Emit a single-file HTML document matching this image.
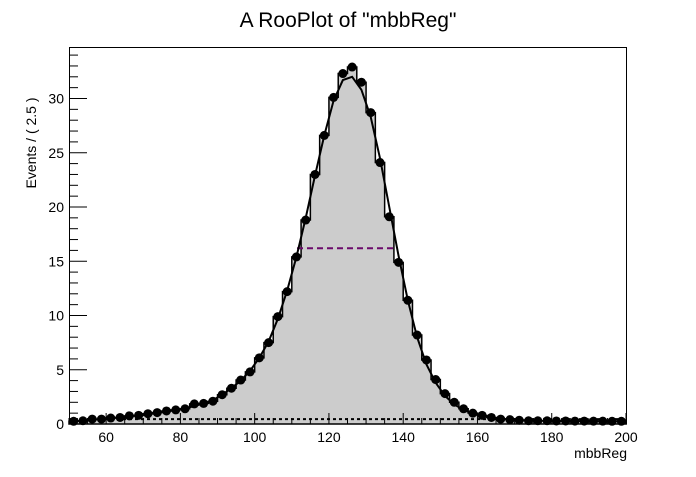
<!DOCTYPE html>
<html><head><meta charset="utf-8"><style>
body{margin:0;background:#fff;width:696px;height:472px;overflow:hidden}
svg text{font-family:"Liberation Sans",Arial,sans-serif;fill:#000}
</style></head><body>
<svg id="chart" width="696" height="472" xmlns="http://www.w3.org/2000/svg">
<text x="348" y="27" font-size="21" text-anchor="middle">A RooPlot of "mbbReg"</text>
<text transform="translate(36,143) rotate(-90)" font-size="14" text-anchor="middle">Events / ( 2.5 )</text>
<text x="627" y="458" font-size="14" text-anchor="end">mbbReg</text>
<g id="plot"></g>
</svg>
<script>
const binCenters = [51.25,53.75,56.25,58.75,61.25,63.75,66.25,68.75,71.25,73.75,76.25,78.75,81.25,83.75,86.25,88.75,91.25,93.75,96.25,98.75,101.25,103.75,106.25,108.75,111.25,113.75,116.25,118.75,121.25,123.75,126.25,128.75,131.25,133.75,136.25,138.75,141.25,143.75,146.25,148.75,151.25,153.75,156.25,158.75,161.25,163.75,166.25,168.75,171.25,173.75,176.25,178.75,181.25,183.75,186.25,188.75,191.25,193.75,196.25,198.75];
const counts = [0.25,0.3,0.45,0.45,0.55,0.6,0.75,0.8,0.95,1.05,1.2,1.3,1.4,1.85,1.9,2.1,2.7,3.3,4.05,4.8,6.1,7.5,9.9,12.2,15.4,18.8,23.0,26.6,30.1,32.3,32.9,31.5,28.7,24.1,19.1,14.9,11.4,8.2,5.9,4.1,2.8,2.0,1.4,1.0,0.8,0.6,0.45,0.4,0.35,0.3,0.3,0.3,0.28,0.28,0.27,0.27,0.26,0.26,0.25,0.25];
const fitCurve = [0.25,0.3,0.4,0.45,0.55,0.6,0.7,0.8,0.9,1.0,1.15,1.3,1.45,1.65,1.9,2.2,2.7,3.3,4.0,4.9,6.1,7.6,9.7,12.3,15.4,19.0,22.9,26.6,29.8,31.7,32.0,30.8,28.3,24.5,20.0,15.5,11.4,8.0,5.5,3.8,2.6,1.8,1.3,0.95,0.75,0.6,0.5,0.42,0.37,0.33,0.3,0.29,0.28,0.27,0.27,0.26,0.26,0.25,0.25,0.25];
const xTicks = [60,80,100,120,140,160,180,200];
const yTicks = [0,5,10,15,20,25,30];
const halfMaxLevel = 16.2, halfMaxRange = [111.4, 138.6];
const bkgLevel = 0.45;
const binWidth = 2.5;

const X = v => 69 + (v - 50) * (557 / 150);
const Y = v => 424 - v * 10.85;
const NS = 'http://www.w3.org/2000/svg';
const g = document.getElementById('plot');
function mk(tag, attrs) { const e = document.createElementNS(NS, tag); for (const k in attrs) e.setAttribute(k, attrs[k]); g.appendChild(e); return e; }

// histogram fill + step
let d = 'M' + X(50) + ',' + Y(0);
binCenters.forEach((c, i) => { d += ' L' + X(c - binWidth/2) + ',' + Y(counts[i]) + ' L' + X(c + binWidth/2) + ',' + Y(counts[i]); });
d += ' L' + X(200) + ',' + Y(0) + 'Z';
const fill = mk('path', {d: d, fill: '#cccccc', stroke: '#000', 'stroke-width': 1.5});



// background dotted
const bk = mk('line', {x1: X(50), x2: X(200), y1: Y(bkgLevel), y2: Y(bkgLevel), stroke: '#000', 'stroke-width': 2, 'stroke-dasharray': '3,3'});



// half max line
const hm = mk('line', {x1: X(halfMaxRange[0]), x2: X(halfMaxRange[1]), y1: Y(halfMaxLevel), y2: Y(halfMaxLevel), stroke: '#6a0a6a', 'stroke-width': 2, 'stroke-dasharray': '6,4'});



// fit curve
const pc = fitCurve.map((v, i) => X(binCenters[i]) + ',' + Y(v)).join(' ');
const cv = mk('polyline', {points: pc, fill: 'none', stroke: '#000', 'stroke-width': 2});



// points
counts.forEach((v, i) => {
  const c = mk('circle', {cx: X(binCenters[i]), cy: Y(v), r: 4.5, fill: '#000'});
  
  
});

// frame
const fr = mk('rect', {x: 69.5, y: 47.5, width: 557, height: 376.5, fill: 'none', stroke: '#000', 'stroke-width': 1});



// y ticks
for (let v = 0; v <= 34; v++) {
  const major = v % 5 === 0;
  mk('line', {x1: 70, x2: 70 + (major ? 17 : 8), y1: Y(v), y2: Y(v), stroke: '#000', 'stroke-width': 1});
}
yTicks.forEach(v => {
  const t = mk('text', {x: 64, y: Y(v) + 5, 'font-size': 14, 'text-anchor': 'end'});
  t.textContent = v;
  
  
});
// x ticks
for (let v = 50; v <= 200; v += 5) {
  const major = v % 20 === 0;
  mk('line', {x1: X(v), x2: X(v), y1: 424, y2: 424 - (major ? 11 : 6), stroke: '#000', 'stroke-width': 1});
}
xTicks.forEach(v => {
  const t = mk('text', {x: X(v), y: 442, 'font-size': 14, 'text-anchor': 'middle'});
  t.textContent = v;
  
  
});
</script>
</body></html>
